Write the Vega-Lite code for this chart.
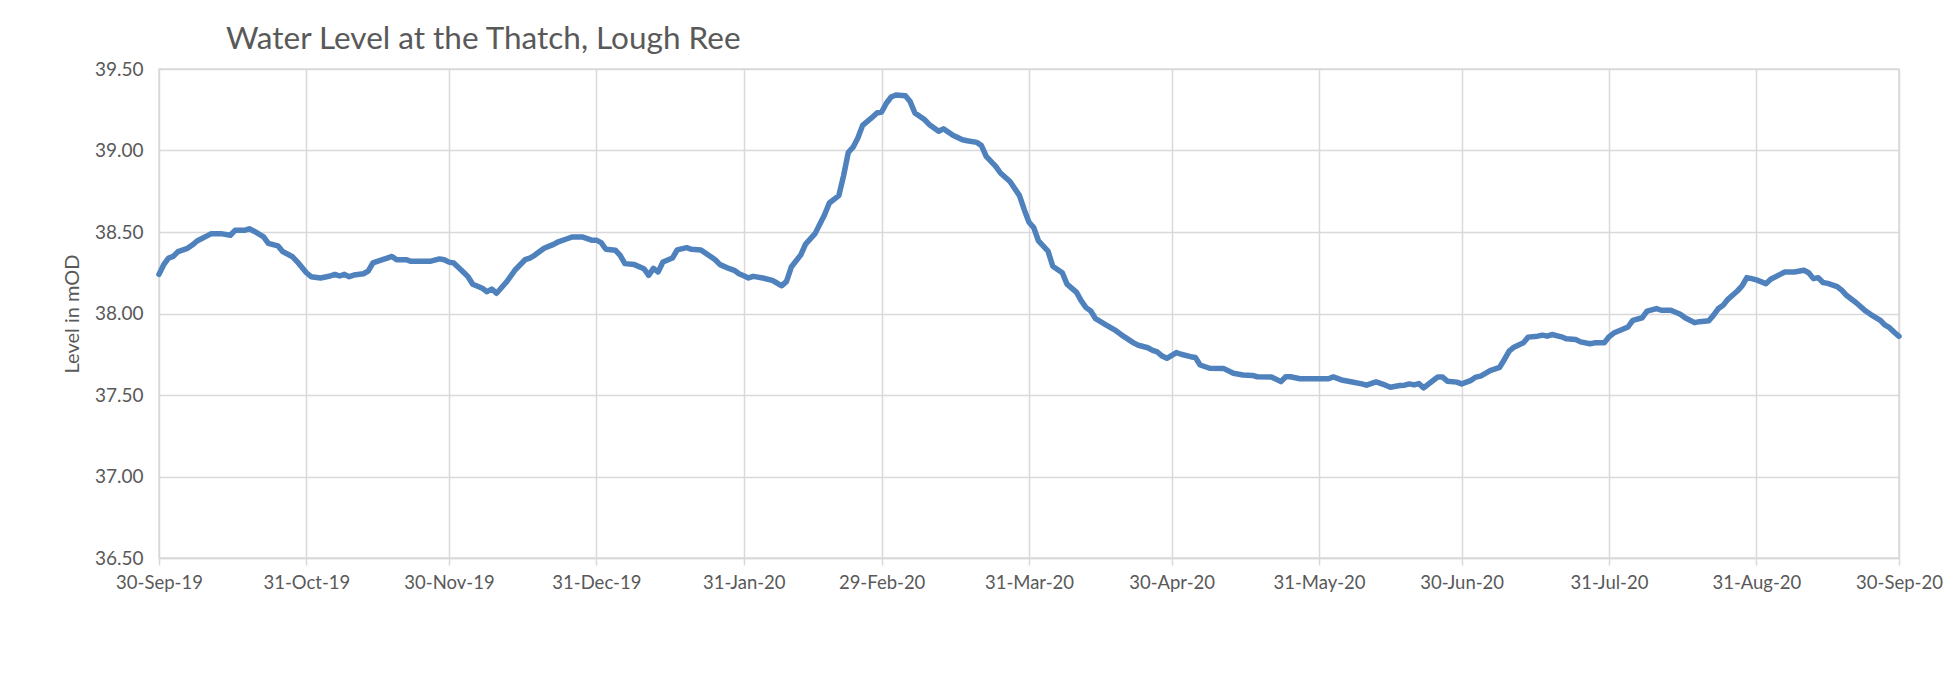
{
  "$schema": "https://vega.github.io/schema/vega-lite/v6.json",
  "width": 1740,
  "height": 489,
  "autosize": {"type": "none"},
  "padding": {"left": 159, "top": 69, "right": 51, "bottom": 122},
  "background": "white",
  "title": {"text": "Water Level at the Thatch, Lough Ree", "anchor": "start", "frame": "group", "dx": 67, "dy": 31, "offset": 11, "baseline": "alphabetic", "fontSize": 31.5, "font": "Lato", "fontWeight": "normal", "color": "#595959"},
  "data": {"values": [
    {"date": "2019-09-30T00:00", "level": 38.24},
    {"date": "2019-10-01T00:00", "level": 38.30},
    {"date": "2019-10-02T00:00", "level": 38.34},
    {"date": "2019-10-03T00:00", "level": 38.35},
    {"date": "2019-10-04T00:00", "level": 38.38},
    {"date": "2019-10-06T00:00", "level": 38.40},
    {"date": "2019-10-07T00:00", "level": 38.42},
    {"date": "2019-10-08T00:00", "level": 38.445},
    {"date": "2019-10-10T00:00", "level": 38.475},
    {"date": "2019-10-11T00:00", "level": 38.49},
    {"date": "2019-10-13T00:00", "level": 38.49},
    {"date": "2019-10-15T00:00", "level": 38.48},
    {"date": "2019-10-16T00:00", "level": 38.51},
    {"date": "2019-10-18T00:00", "level": 38.51},
    {"date": "2019-10-19T00:00", "level": 38.52},
    {"date": "2019-10-20T00:00", "level": 38.505},
    {"date": "2019-10-22T00:00", "level": 38.47},
    {"date": "2019-10-23T00:00", "level": 38.43},
    {"date": "2019-10-25T00:00", "level": 38.415},
    {"date": "2019-10-26T00:00", "level": 38.38},
    {"date": "2019-10-28T00:00", "level": 38.35},
    {"date": "2019-10-29T00:00", "level": 38.32},
    {"date": "2019-10-30T00:00", "level": 38.285},
    {"date": "2019-10-31T00:00", "level": 38.25},
    {"date": "2019-11-01T00:00", "level": 38.226},
    {"date": "2019-11-03T00:00", "level": 38.218},
    {"date": "2019-11-05T00:00", "level": 38.23},
    {"date": "2019-11-06T00:00", "level": 38.24},
    {"date": "2019-11-07T00:00", "level": 38.23},
    {"date": "2019-11-08T00:00", "level": 38.24},
    {"date": "2019-11-09T00:00", "level": 38.226},
    {"date": "2019-11-10T00:00", "level": 38.236},
    {"date": "2019-11-12T00:00", "level": 38.244},
    {"date": "2019-11-13T00:00", "level": 38.26},
    {"date": "2019-11-14T00:00", "level": 38.31},
    {"date": "2019-11-16T00:00", "level": 38.33},
    {"date": "2019-11-17T00:00", "level": 38.34},
    {"date": "2019-11-18T00:00", "level": 38.35},
    {"date": "2019-11-19T00:00", "level": 38.33},
    {"date": "2019-11-21T00:00", "level": 38.33},
    {"date": "2019-11-22T00:00", "level": 38.32},
    {"date": "2019-11-26T00:00", "level": 38.32},
    {"date": "2019-11-28T00:00", "level": 38.335},
    {"date": "2019-11-29T00:00", "level": 38.33},
    {"date": "2019-11-30T00:00", "level": 38.315},
    {"date": "2019-12-01T00:00", "level": 38.31},
    {"date": "2019-12-03T00:00", "level": 38.255},
    {"date": "2019-12-04T00:00", "level": 38.226},
    {"date": "2019-12-05T00:00", "level": 38.18},
    {"date": "2019-12-07T00:00", "level": 38.155},
    {"date": "2019-12-08T00:00", "level": 38.134},
    {"date": "2019-12-09T00:00", "level": 38.15},
    {"date": "2019-12-10T00:00", "level": 38.124},
    {"date": "2019-12-12T00:00", "level": 38.19},
    {"date": "2019-12-14T00:00", "level": 38.27},
    {"date": "2019-12-16T00:00", "level": 38.33},
    {"date": "2019-12-17T00:00", "level": 38.34},
    {"date": "2019-12-18T00:00", "level": 38.357},
    {"date": "2019-12-20T00:00", "level": 38.40},
    {"date": "2019-12-22T00:00", "level": 38.424},
    {"date": "2019-12-23T00:00", "level": 38.44},
    {"date": "2019-12-25T00:00", "level": 38.46},
    {"date": "2019-12-26T00:00", "level": 38.47},
    {"date": "2019-12-28T00:00", "level": 38.47},
    {"date": "2019-12-30T00:00", "level": 38.45},
    {"date": "2019-12-31T00:00", "level": 38.45},
    {"date": "2020-01-01T00:00", "level": 38.435},
    {"date": "2020-01-02T00:00", "level": 38.394},
    {"date": "2020-01-04T00:00", "level": 38.388},
    {"date": "2020-01-05T00:00", "level": 38.357},
    {"date": "2020-01-06T00:00", "level": 38.306},
    {"date": "2020-01-08T00:00", "level": 38.30},
    {"date": "2020-01-10T00:00", "level": 38.275},
    {"date": "2020-01-11T00:00", "level": 38.234},
    {"date": "2020-01-12T00:00", "level": 38.277},
    {"date": "2020-01-13T00:00", "level": 38.255},
    {"date": "2020-01-14T00:00", "level": 38.316},
    {"date": "2020-01-16T00:00", "level": 38.34},
    {"date": "2020-01-17T00:00", "level": 38.39},
    {"date": "2020-01-19T00:00", "level": 38.404},
    {"date": "2020-01-20T00:00", "level": 38.394},
    {"date": "2020-01-22T00:00", "level": 38.39},
    {"date": "2020-01-23T00:00", "level": 38.37},
    {"date": "2020-01-25T00:00", "level": 38.33},
    {"date": "2020-01-26T00:00", "level": 38.30},
    {"date": "2020-01-28T00:00", "level": 38.275},
    {"date": "2020-01-29T00:00", "level": 38.265},
    {"date": "2020-01-30T00:00", "level": 38.244},
    {"date": "2020-01-31T00:00", "level": 38.232},
    {"date": "2020-02-01T00:00", "level": 38.218},
    {"date": "2020-02-02T00:00", "level": 38.228},
    {"date": "2020-02-04T00:00", "level": 38.218},
    {"date": "2020-02-06T00:00", "level": 38.203},
    {"date": "2020-02-07T00:00", "level": 38.187},
    {"date": "2020-02-08T00:00", "level": 38.17},
    {"date": "2020-02-09T00:00", "level": 38.197},
    {"date": "2020-02-10T00:00", "level": 38.285},
    {"date": "2020-02-12T00:00", "level": 38.36},
    {"date": "2020-02-13T00:00", "level": 38.426},
    {"date": "2020-02-15T00:00", "level": 38.49},
    {"date": "2020-02-17T00:00", "level": 38.606},
    {"date": "2020-02-18T00:00", "level": 38.678},
    {"date": "2020-02-20T00:00", "level": 38.723},
    {"date": "2020-02-21T00:00", "level": 38.846},
    {"date": "2020-02-22T00:00", "level": 38.989},
    {"date": "2020-02-23T00:00", "level": 39.02},
    {"date": "2020-02-24T00:00", "level": 39.077},
    {"date": "2020-02-25T00:00", "level": 39.154},
    {"date": "2020-02-27T00:00", "level": 39.203},
    {"date": "2020-02-28T00:00", "level": 39.23},
    {"date": "2020-02-29T00:00", "level": 39.236},
    {"date": "2020-03-01T00:00", "level": 39.29},
    {"date": "2020-03-02T00:00", "level": 39.328},
    {"date": "2020-03-03T00:00", "level": 39.34},
    {"date": "2020-03-05T00:00", "level": 39.336},
    {"date": "2020-03-06T00:00", "level": 39.30},
    {"date": "2020-03-07T00:00", "level": 39.23},
    {"date": "2020-03-09T00:00", "level": 39.19},
    {"date": "2020-03-10T00:00", "level": 39.16},
    {"date": "2020-03-12T00:00", "level": 39.118},
    {"date": "2020-03-13T00:00", "level": 39.133},
    {"date": "2020-03-15T00:00", "level": 39.093},
    {"date": "2020-03-17T00:00", "level": 39.066},
    {"date": "2020-03-18T00:00", "level": 39.06},
    {"date": "2020-03-20T00:00", "level": 39.05},
    {"date": "2020-03-21T00:00", "level": 39.03},
    {"date": "2020-03-22T00:00", "level": 38.964},
    {"date": "2020-03-24T00:00", "level": 38.903},
    {"date": "2020-03-25T00:00", "level": 38.862},
    {"date": "2020-03-27T00:00", "level": 38.81},
    {"date": "2020-03-29T00:00", "level": 38.723},
    {"date": "2020-03-30T00:00", "level": 38.637},
    {"date": "2020-03-31T00:00", "level": 38.56},
    {"date": "2020-04-01T00:00", "level": 38.527},
    {"date": "2020-04-02T00:00", "level": 38.445},
    {"date": "2020-04-04T00:00", "level": 38.383},
    {"date": "2020-04-05T00:00", "level": 38.29},
    {"date": "2020-04-07T00:00", "level": 38.25},
    {"date": "2020-04-08T00:00", "level": 38.18},
    {"date": "2020-04-10T00:00", "level": 38.13},
    {"date": "2020-04-11T00:00", "level": 38.077},
    {"date": "2020-04-12T00:00", "level": 38.036},
    {"date": "2020-04-13T00:00", "level": 38.015},
    {"date": "2020-04-14T00:00", "level": 37.968},
    {"date": "2020-04-16T00:00", "level": 37.934},
    {"date": "2020-04-18T00:00", "level": 37.90},
    {"date": "2020-04-20T00:00", "level": 37.858},
    {"date": "2020-04-22T00:00", "level": 37.82},
    {"date": "2020-04-23T00:00", "level": 37.805},
    {"date": "2020-04-25T00:00", "level": 37.79},
    {"date": "2020-04-26T00:00", "level": 37.774},
    {"date": "2020-04-27T00:00", "level": 37.764},
    {"date": "2020-04-28T00:00", "level": 37.739},
    {"date": "2020-04-29T00:00", "level": 37.725},
    {"date": "2020-05-01T00:00", "level": 37.76},
    {"date": "2020-05-02T00:00", "level": 37.75},
    {"date": "2020-05-04T00:00", "level": 37.735},
    {"date": "2020-05-05T00:00", "level": 37.73},
    {"date": "2020-05-06T00:00", "level": 37.684},
    {"date": "2020-05-08T00:00", "level": 37.664},
    {"date": "2020-05-11T00:00", "level": 37.662},
    {"date": "2020-05-13T00:00", "level": 37.633},
    {"date": "2020-05-15T00:00", "level": 37.623},
    {"date": "2020-05-17T00:00", "level": 37.62},
    {"date": "2020-05-18T00:00", "level": 37.612},
    {"date": "2020-05-21T00:00", "level": 37.61},
    {"date": "2020-05-23T00:00", "level": 37.582},
    {"date": "2020-05-24T00:00", "level": 37.612},
    {"date": "2020-05-25T00:00", "level": 37.612},
    {"date": "2020-05-27T00:00", "level": 37.60},
    {"date": "2020-05-31T00:00", "level": 37.60},
    {"date": "2020-06-02T00:00", "level": 37.60},
    {"date": "2020-06-03T00:00", "level": 37.611},
    {"date": "2020-06-05T00:00", "level": 37.59},
    {"date": "2020-06-07T00:00", "level": 37.58},
    {"date": "2020-06-09T00:00", "level": 37.568},
    {"date": "2020-06-10T00:00", "level": 37.56},
    {"date": "2020-06-12T00:00", "level": 37.58},
    {"date": "2020-06-14T00:00", "level": 37.56},
    {"date": "2020-06-15T00:00", "level": 37.548},
    {"date": "2020-06-17T00:00", "level": 37.558},
    {"date": "2020-06-18T00:00", "level": 37.56},
    {"date": "2020-06-19T00:00", "level": 37.568},
    {"date": "2020-06-20T00:00", "level": 37.562},
    {"date": "2020-06-21T00:00", "level": 37.57},
    {"date": "2020-06-22T00:00", "level": 37.544},
    {"date": "2020-06-24T00:00", "level": 37.589},
    {"date": "2020-06-25T00:00", "level": 37.611},
    {"date": "2020-06-26T00:00", "level": 37.61},
    {"date": "2020-06-27T00:00", "level": 37.585},
    {"date": "2020-06-29T00:00", "level": 37.579},
    {"date": "2020-06-30T00:00", "level": 37.568},
    {"date": "2020-07-02T00:00", "level": 37.59},
    {"date": "2020-07-03T00:00", "level": 37.61},
    {"date": "2020-07-04T00:00", "level": 37.616},
    {"date": "2020-07-06T00:00", "level": 37.65},
    {"date": "2020-07-08T00:00", "level": 37.67},
    {"date": "2020-07-09T00:00", "level": 37.718},
    {"date": "2020-07-10T00:00", "level": 37.769},
    {"date": "2020-07-11T00:00", "level": 37.793},
    {"date": "2020-07-13T00:00", "level": 37.82},
    {"date": "2020-07-14T00:00", "level": 37.855},
    {"date": "2020-07-16T00:00", "level": 37.861},
    {"date": "2020-07-17T00:00", "level": 37.867},
    {"date": "2020-07-18T00:00", "level": 37.861},
    {"date": "2020-07-19T00:00", "level": 37.871},
    {"date": "2020-07-21T00:00", "level": 37.857},
    {"date": "2020-07-22T00:00", "level": 37.845},
    {"date": "2020-07-24T00:00", "level": 37.84},
    {"date": "2020-07-25T00:00", "level": 37.826},
    {"date": "2020-07-27T00:00", "level": 37.814},
    {"date": "2020-07-28T00:00", "level": 37.82},
    {"date": "2020-07-30T00:00", "level": 37.82},
    {"date": "2020-07-31T00:00", "level": 37.857},
    {"date": "2020-08-01T00:00", "level": 37.88},
    {"date": "2020-08-03T00:00", "level": 37.905},
    {"date": "2020-08-04T00:00", "level": 37.917},
    {"date": "2020-08-05T00:00", "level": 37.958},
    {"date": "2020-08-07T00:00", "level": 37.974},
    {"date": "2020-08-08T00:00", "level": 38.015},
    {"date": "2020-08-10T00:00", "level": 38.03},
    {"date": "2020-08-11T00:00", "level": 38.02},
    {"date": "2020-08-13T00:00", "level": 38.02},
    {"date": "2020-08-15T00:00", "level": 37.995},
    {"date": "2020-08-16T00:00", "level": 37.974},
    {"date": "2020-08-18T00:00", "level": 37.944},
    {"date": "2020-08-19T00:00", "level": 37.95},
    {"date": "2020-08-21T00:00", "level": 37.955},
    {"date": "2020-08-22T00:00", "level": 37.99},
    {"date": "2020-08-23T00:00", "level": 38.03},
    {"date": "2020-08-24T00:00", "level": 38.05},
    {"date": "2020-08-25T00:00", "level": 38.087},
    {"date": "2020-08-27T00:00", "level": 38.138},
    {"date": "2020-08-28T00:00", "level": 38.169},
    {"date": "2020-08-29T00:00", "level": 38.22},
    {"date": "2020-08-30T00:00", "level": 38.214},
    {"date": "2020-08-31T00:00", "level": 38.206},
    {"date": "2020-09-02T00:00", "level": 38.183},
    {"date": "2020-09-03T00:00", "level": 38.21},
    {"date": "2020-09-05T00:00", "level": 38.24},
    {"date": "2020-09-06T00:00", "level": 38.255},
    {"date": "2020-09-08T00:00", "level": 38.255},
    {"date": "2020-09-10T00:00", "level": 38.265},
    {"date": "2020-09-11T00:00", "level": 38.25},
    {"date": "2020-09-12T00:00", "level": 38.214},
    {"date": "2020-09-13T00:00", "level": 38.22},
    {"date": "2020-09-14T00:00", "level": 38.19},
    {"date": "2020-09-15T00:00", "level": 38.185},
    {"date": "2020-09-17T00:00", "level": 38.165},
    {"date": "2020-09-18T00:00", "level": 38.142},
    {"date": "2020-09-19T00:00", "level": 38.11},
    {"date": "2020-09-21T00:00", "level": 38.066},
    {"date": "2020-09-23T00:00", "level": 38.015},
    {"date": "2020-09-24T00:00", "level": 37.995},
    {"date": "2020-09-26T00:00", "level": 37.96},
    {"date": "2020-09-27T00:00", "level": 37.93},
    {"date": "2020-09-28T00:00", "level": 37.913},
    {"date": "2020-09-29T00:00", "level": 37.885},
    {"date": "2020-09-30T00:00", "level": 37.86}
  ]},
  "mark": {"type": "line", "color": "#4f81bd", "strokeWidth": 5.5, "strokeJoin": "round", "strokeCap": "round"},
  "encoding": {
    "x": {
      "field": "date",
      "type": "temporal",
      "scale": {"domain": [{"year": 2019, "month": 9, "date": 30}, {"year": 2020, "month": 9, "date": 30}]},
      "axis": {
        "title": null,
        "format": "%d-%b-%y",
        "values": [
          {"year": 2019, "month": 9, "date": 30},
          {"year": 2019, "month": 10, "date": 31},
          {"year": 2019, "month": 11, "date": 30},
          {"year": 2019, "month": 12, "date": 31},
          {"year": 2020, "month": 1, "date": 31},
          {"year": 2020, "month": 2, "date": 29},
          {"year": 2020, "month": 3, "date": 31},
          {"year": 2020, "month": 4, "date": 30},
          {"year": 2020, "month": 5, "date": 31},
          {"year": 2020, "month": 6, "date": 30},
          {"year": 2020, "month": 7, "date": 31},
          {"year": 2020, "month": 8, "date": 31},
          {"year": 2020, "month": 9, "date": 30}
        ],
        "tickSize": 7,
        "tickColor": "#d9d9d9",
        "tickWidth": 1.5,
        "domainColor": "#d9d9d9",
        "domainWidth": 1.5,
        "labelPadding": 8,
        "labelFontSize": 18.5,
        "labelFlush": false,
        "labelOverlap": false
      }
    },
    "y": {
      "field": "level",
      "type": "quantitative",
      "scale": {"domain": [36.5, 39.5], "nice": false, "zero": false},
      "axis": {
        "title": "Level in mOD",
        "format": ".2f",
        "values": [36.5, 37, 37.5, 38, 38.5, 39, 39.5],
        "ticks": false,
        "domain": false,
        "labelPadding": 16,
        "labelFontSize": 19,
        "titleFontSize": 20,
        "titlePadding": 12
      }
    }
  },
  "config": {
    "view": {"stroke": "#d9d9d9", "strokeWidth": 1.5},
    "axis": {
      "gridColor": "#d9d9d9",
      "gridWidth": 1.5,
      "labelColor": "#595959",
      "labelFont": "Lato",
      "titleColor": "#595959",
      "titleFont": "Lato",
      "titleFontWeight": "normal"
    }
  }
}
